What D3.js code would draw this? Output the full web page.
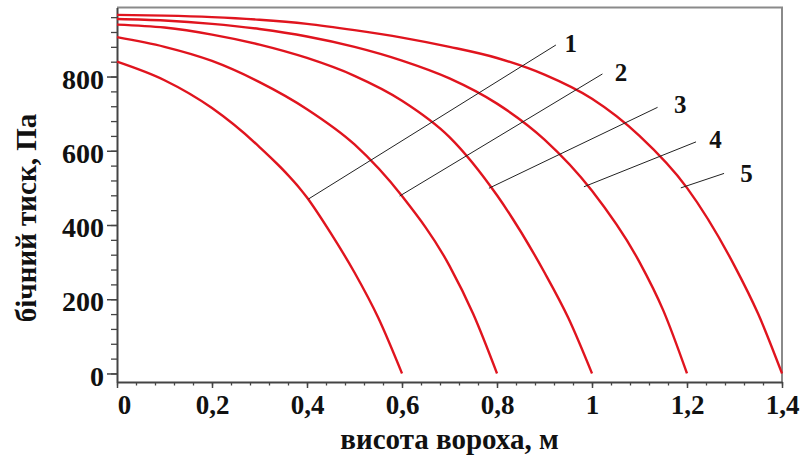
<!DOCTYPE html>
<html>
<head>
<meta charset="utf-8">
<script src="https://cdn.jsdelivr.net/npm/d3@7"></script>
<style>
  body { margin: 0; background: #fff; }
  text { font-family: "Liberation Serif", "Times New Roman", serif; fill: #111; font-weight: bold; }
</style>
</head>
<body>
<script>
//curve data: bed height (m) -> lateral pressure (Pa)
var heights1 = [0, 0.1, 0.2, 0.3, 0.4, 0.45, 0.5, 0.55, 0.6];
var pressure1 = [840, 790, 715, 610, 474, 378, 272, 150, 0];

var heights2 = [0, 0.1, 0.2, 0.3, 0.4, 0.5, 0.6, 0.7, 0.75, 0.8];
var pressure2 = [906, 880, 842, 785, 712, 617, 478, 290, 160, 0];

var heights3 = [0, 0.1, 0.2, 0.3, 0.4, 0.5, 0.6, 0.7, 0.8, 0.9, 0.95, 1.0];
var pressure3 = [940, 932, 913, 886, 850, 802, 735, 637, 480, 272, 150, 0];

var heights4 = [0, 0.1, 0.2, 0.3, 0.4, 0.5, 0.6, 0.7, 0.8, 0.9, 1.0, 1.1, 1.15, 1.2];
var pressure4 = [955, 951, 942, 928, 908, 880, 843, 795, 727, 630, 492, 300, 170, 0];

var heights5 = [0, 0.1, 0.2, 0.3, 0.4, 0.5, 0.6, 0.7, 0.8, 0.9, 1.0, 1.1, 1.2, 1.3, 1.35, 1.4];
var pressure5 = [966, 964, 960, 953, 942, 925, 905, 880, 850, 805, 740, 640, 500, 290, 160, 0];

//curve labels and their leader lines (data units)
var curveLabels = ["1", "2", "3", "4", "5"];
var leaderFrom = [[0.403, 470], [0.595, 478], [0.783, 499], [0.983, 503], [1.187, 500]];
var leaderTo = [[0.924, 885], [1.022, 807], [1.138, 717], [1.219, 624], [1.278, 539]];
var labelAt = [[0.955, 889], [1.061, 811], [1.186, 726], [1.260, 632], [1.325, 539]];

//axis ticks
var xTicks = [0, 0.2, 0.4, 0.6, 0.8, 1, 1.2, 1.4];
var yTicks = [0, 200, 400, 600, 800];

var width = 811,
    height = 457;

var svg = d3.select("body")
    .append("svg")
    .attr("width", width)
    .attr("height", height);

svg.append("rect")
    .attr("width", width)
    .attr("height", height)
    .attr("fill", "#fff");

var x = d3.scaleLinear().domain([0, 1.4]).range([117, 782]);
var y = d3.scaleLinear().domain([-23, 986]).range([382, 7.5]);

var fmt = function(d){ return String(+d.toFixed(1)).replace(".", ","); };

//frame (top and right are lighter)
svg.append("path")
    .attr("d", "M" + x(0) + "," + y.range()[1] + "H" + x(1.4) + "V" + y.range()[0])
    .attr("fill", "none")
    .attr("stroke", "#8a8a8a")
    .attr("stroke-width", 2);

//minor ticks
var xMinor = d3.range(0, 36).map(function(i){ return i * 0.04; });
var yMinor = d3.range(0, 25).map(function(i){ return i * 40; });

svg.append("g")
    .attr("transform", "translate(0," + y.range()[0] + ")")
    .call(d3.axisBottom(x).tickValues(xMinor).tickSize(3.5).tickFormat(""))
    .call(function(g){ g.select(".domain").remove(); })
    .selectAll("line").attr("stroke", "#444").attr("stroke-width", 1.3);

svg.append("g")
    .attr("transform", "translate(" + x(0) + ",0)")
    .call(d3.axisLeft(y).tickValues(yMinor).tickSize(6).tickFormat(""))
    .call(function(g){ g.select(".domain").remove(); })
    .selectAll("line").attr("stroke", "#444").attr("stroke-width", 1.3);

//major axes
var xAxis = svg.append("g")
    .attr("transform", "translate(0," + y.range()[0] + ")")
    .call(d3.axisBottom(x).tickValues(xTicks).tickSize(6).tickSizeOuter(0).tickPadding(7).tickFormat(fmt));
xAxis.select(".domain").attr("stroke", "#444").attr("stroke-width", 2);
xAxis.selectAll(".tick line").attr("stroke", "#444").attr("stroke-width", 1.5);
xAxis.selectAll(".tick text")
    .attr("font-size", 27)
    .attr("dx", function(d){ return d === 0 ? 7 : 0; })
    .attr("font-family", "Liberation Serif, serif")
    .attr("font-weight", "bold");

var yAxis = svg.append("g")
    .attr("transform", "translate(" + x(0) + ",0)")
    .call(d3.axisLeft(y).tickValues(yTicks).tickSize(10).tickSizeOuter(0).tickPadding(3).tickFormat(fmt));
yAxis.select(".domain").attr("stroke", "#444").attr("stroke-width", 2);
yAxis.selectAll(".tick line").attr("stroke", "#444").attr("stroke-width", 1.5);
yAxis.selectAll(".tick text")
    .attr("font-size", 28)
    .attr("dy", "0.42em")
    .attr("font-family", "Liberation Serif, serif")
    .attr("font-weight", "bold");

//curves
var series = [
    [heights1, pressure1],
    [heights2, pressure2],
    [heights3, pressure3],
    [heights4, pressure4],
    [heights5, pressure5]
];

var line = d3.line()
    .x(function(d){ return x(d[0]); })
    .y(function(d){ return y(d[1]); })
    .curve(d3.curveMonotoneX);

svg.selectAll(".curve")
    .data(series)
    .enter()
    .append("path")
    .attr("class", "curve")
    .attr("d", function(s){ return line(d3.zip(s[0], s[1])); })
    .attr("fill", "none")
    .attr("stroke", "#e0141e")
    .attr("stroke-width", 2.4);

//leaders and numbers
svg.selectAll(".leader")
    .data(curveLabels)
    .enter()
    .append("line")
    .attr("class", "leader")
    .attr("x1", function(d, i){ return x(leaderFrom[i][0]); })
    .attr("y1", function(d, i){ return y(leaderFrom[i][1]); })
    .attr("x2", function(d, i){ return x(leaderTo[i][0]); })
    .attr("y2", function(d, i){ return y(leaderTo[i][1]); })
    .attr("stroke", "#222")
    .attr("stroke-width", 1);

svg.selectAll(".num")
    .data(curveLabels)
    .enter()
    .append("text")
    .attr("class", "num")
    .attr("x", function(d, i){ return x(labelAt[i][0]); })
    .attr("y", function(d, i){ return y(labelAt[i][1]); })
    .attr("dy", "0.35em")
    .attr("text-anchor", "middle")
    .attr("font-size", 25)
    .text(function(d){ return d; });

//axis titles
svg.append("text")
    .attr("x", (x(0) + x(1.4)) / 2)
    .attr("y", 449)
    .attr("text-anchor", "middle")
    .attr("font-size", 29)
    .text("висота вороха, м");

svg.append("text")
    .attr("transform", "translate(36,218) rotate(-90)")
    .attr("text-anchor", "middle")
    .attr("font-size", 29)
    .text("бічний тиск, Па");
</script>
</body>
</html>
